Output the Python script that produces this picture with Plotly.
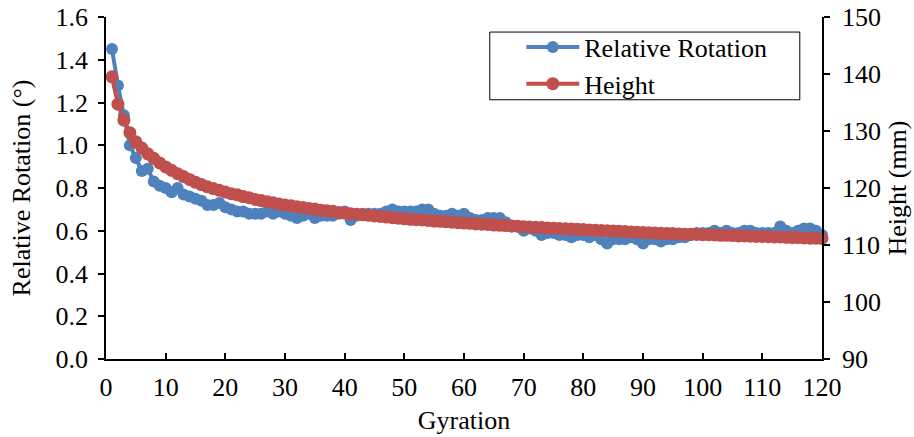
import plotly.graph_objects as go

# Gyration count (x) for both series
gyration = list(range(1, 121))

# Relative rotation in degrees (left axis)
relative_rotation = [
    1.45, 1.28, 1.14, 1.00, 0.94, 0.88, 0.89, 0.83, 0.81, 0.80,
    0.78, 0.80, 0.77, 0.76, 0.75, 0.74, 0.72, 0.72, 0.73, 0.71,
    0.70, 0.69, 0.69, 0.68, 0.68, 0.68, 0.69, 0.68, 0.69, 0.68,
    0.67, 0.66, 0.67, 0.68, 0.66, 0.67, 0.67, 0.67, 0.68, 0.69,
    0.65, 0.67, 0.68, 0.68, 0.68, 0.68, 0.69, 0.70, 0.69, 0.69,
    0.69, 0.69, 0.70, 0.70, 0.68, 0.67, 0.67, 0.68, 0.67, 0.68,
    0.66, 0.65, 0.65, 0.66, 0.66, 0.66, 0.64, 0.62, 0.62, 0.60,
    0.61, 0.60, 0.58, 0.59, 0.59, 0.58, 0.58, 0.57, 0.58, 0.58,
    0.57, 0.58, 0.56, 0.54, 0.56, 0.56, 0.56, 0.57, 0.56, 0.54,
    0.56, 0.56, 0.55, 0.56, 0.56, 0.57, 0.57, 0.58, 0.59, 0.59,
    0.59, 0.60, 0.59, 0.60, 0.59, 0.59, 0.60, 0.60, 0.59, 0.59,
    0.59, 0.59, 0.62, 0.60, 0.59, 0.60, 0.61, 0.61, 0.60, 0.58,
]

# Specimen height in mm (right axis)
height_mm = [
    139.5, 134.7, 131.9, 129.7, 128.1, 127.0, 126.0, 125.2, 124.4, 123.7,
    123.1, 122.5, 122.0, 121.5, 121.0, 120.6, 120.2, 119.9, 119.6, 119.3,
    119.0, 118.8, 118.5, 118.3, 118.0, 117.8, 117.6, 117.4, 117.2, 117.0,
    116.9, 116.7, 116.6, 116.4, 116.3, 116.1, 116.0, 115.9, 115.7, 115.6,
    115.5, 115.4, 115.3, 115.2, 115.1, 115.0, 114.9, 114.8, 114.7, 114.6,
    114.5, 114.45, 114.4, 114.3, 114.2, 114.15, 114.1, 114.0, 113.9, 113.85,
    113.8, 113.7, 113.65, 113.6, 113.5, 113.45, 113.4, 113.35, 113.3, 113.2,
    113.15, 113.1, 113.05, 113.0, 112.95, 112.9, 112.85, 112.8, 112.75, 112.7,
    112.65, 112.6, 112.55, 112.5, 112.45, 112.4, 112.35, 112.3, 112.25, 112.2,
    112.15, 112.1, 112.05, 112.0, 112.0, 111.95, 111.9, 111.9, 111.85, 111.8,
    111.8, 111.75, 111.7, 111.7, 111.65, 111.6, 111.6, 111.55, 111.5, 111.5,
    111.45, 111.4, 111.4, 111.35, 111.3, 111.3, 111.25, 111.2, 111.2, 111.15,
]

x_ticks = list(range(0, 121, 10))
y_left_ticks = [0.0, 0.2, 0.4, 0.6, 0.8, 1.0, 1.2, 1.4, 1.6]
y_right_ticks = [90, 100, 110, 120, 130, 140, 150]

BLUE = "#4F81BD"
RED = "#C0504D"
FONT = "Liberation Serif, Times New Roman, serif"
SIZE = 26

fig = go.Figure()
fig.add_trace(go.Scatter(
    x=gyration, y=relative_rotation, name="Relative Rotation",
    mode="lines+markers", yaxis="y",
    line=dict(color=BLUE, width=4),
    marker=dict(color=BLUE, size=12),
    cliponaxis=False,
))
fig.add_trace(go.Scatter(
    x=gyration, y=height_mm, name="Height",
    mode="lines+markers", yaxis="y2",
    line=dict(color=RED, width=4),
    marker=dict(color=RED, size=13),
    cliponaxis=False,
))

axis_common = dict(
    showgrid=False, zeroline=False, showline=True, automargin=False,
    linecolor="black", linewidth=1.5,
    tickcolor="black", tickwidth=1.5, ticklen=6,
    tickfont=dict(family=FONT, size=SIZE, color="black"),
)

fig.update_layout(
    width=914, height=437,
    margin=dict(l=106, r=92, t=17, b=78),
    paper_bgcolor="white", plot_bgcolor="white",
    font=dict(family=FONT, size=SIZE, color="black"),
    xaxis=dict(
        range=[0, 120], tickvals=x_ticks, ticks="inside", ticklabelstandoff=4,
        title=dict(text="Gyration", font=dict(family=FONT, size=SIZE), standoff=10),
        **axis_common,
    ),
    yaxis=dict(
        range=[0, 1.6], tickvals=y_left_ticks, tickformat=".1f", ticks="outside",
        ticklabelstandoff=5,
        title=dict(text="Relative Rotation (°)", font=dict(family=FONT, size=SIZE), standoff=17),
        **axis_common,
    ),
    yaxis2=dict(
        range=[90, 150], tickvals=y_right_ticks, ticks="outside",
        overlaying="y", side="right", ticklabelstandoff=7,
        title=dict(text="Height (mm)", font=dict(family=FONT, size=SIZE), standoff=8),
        **axis_common,
    ),
    legend=dict(
        x=0.580, y=0.981, xanchor="left", yanchor="top",
        bgcolor="rgba(0,0,0,0)", borderwidth=0,
        font=dict(family=FONT, size=SIZE, color="black"),
        tracegroupgap=0, itemwidth=53,
    ),
    # frame around the legend entries
    shapes=[dict(
        type="rect", xref="paper", yref="paper", layer="below",
        x0=0.536, x1=0.969, y0=0.758, y1=0.956,
        line=dict(color="black", width=1), fillcolor="white",
    )],
    showlegend=True,
)

fig.write_html("out.html")
